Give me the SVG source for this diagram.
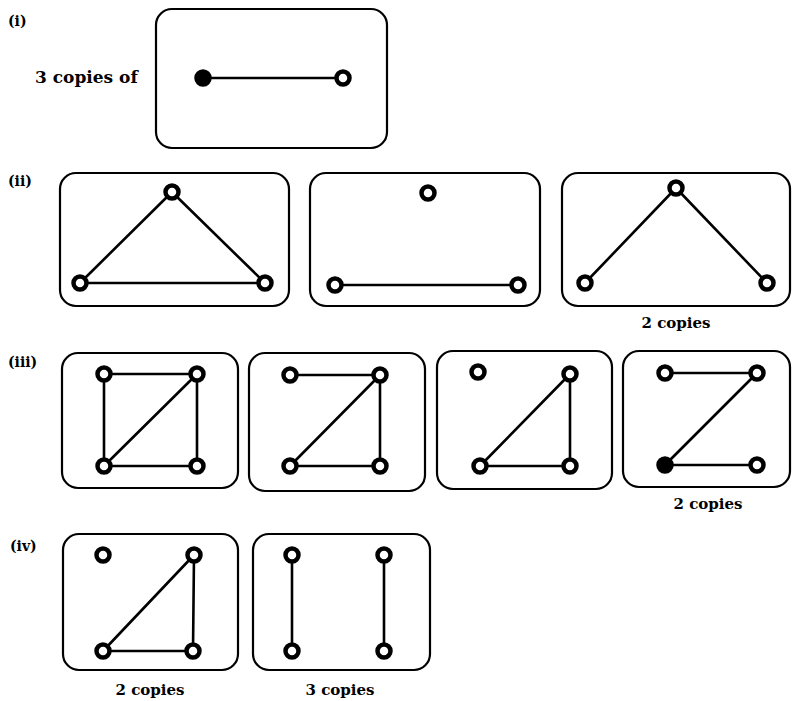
<svg xmlns="http://www.w3.org/2000/svg" width="794" height="701" viewBox="0 0 794 701">
<style>
.box{fill:none;stroke:#000;stroke-width:2.2}
.e{stroke:#000;stroke-width:2.6;stroke-linecap:round}
.n{fill:#fff;stroke:#000;stroke-width:4.5}
.nf{fill:#000;stroke:#000;stroke-width:4.5}
.t{font-family:"DejaVu Serif","Liberation Serif",serif;font-weight:bold;font-size:15px;fill:#000}
.lab{font-family:"DejaVu Serif","Liberation Serif",serif;font-weight:bold;font-size:14px;fill:#000}
</style>
<rect width="794" height="701" fill="#fff"/>
<g id="labels">
<text class="lab" x="8" y="26">(i)</text>
<text class="t" x="35" y="83" style="font-size:17px">3 copies of</text>
<text class="lab" x="8" y="186">(ii)</text>
<text class="t" x="676" y="328" text-anchor="middle">2 copies</text>
<text class="lab" x="8" y="367">(iii)</text>
<text class="t" x="708" y="509" text-anchor="middle">2 copies</text>
<text class="lab" x="10" y="551">(iv)</text>
<text class="t" x="150" y="695" text-anchor="middle">2 copies</text>
<text class="t" x="340" y="695" text-anchor="middle">3 copies</text>
</g>
<g id="connectors">
<line class="e" x1="203" y1="78" x2="343" y2="78"/>
<line class="e" x1="172" y1="192" x2="80" y2="283"/>
<line class="e" x1="172" y1="192" x2="265" y2="283"/>
<line class="e" x1="80" y1="283" x2="265" y2="283"/>
<line class="e" x1="335" y1="285" x2="518" y2="285"/>
<line class="e" x1="676" y1="188" x2="585" y2="283"/>
<line class="e" x1="676" y1="188" x2="767" y2="283"/>
<line class="e" x1="104" y1="374" x2="197" y2="374"/>
<line class="e" x1="104" y1="374" x2="104" y2="466"/>
<line class="e" x1="197" y1="374" x2="197" y2="466"/>
<line class="e" x1="104" y1="466" x2="197" y2="466"/>
<line class="e" x1="104" y1="466" x2="197" y2="374"/>
<line class="e" x1="290" y1="375" x2="380" y2="375"/>
<line class="e" x1="380" y1="375" x2="290" y2="466"/>
<line class="e" x1="290" y1="466" x2="380" y2="466"/>
<line class="e" x1="380" y1="375" x2="380" y2="466"/>
<line class="e" x1="570" y1="374" x2="480" y2="466"/>
<line class="e" x1="480" y1="466" x2="570" y2="466"/>
<line class="e" x1="570" y1="374" x2="570" y2="466"/>
<line class="e" x1="665" y1="373" x2="757" y2="373"/>
<line class="e" x1="757" y1="373" x2="665" y2="465"/>
<line class="e" x1="665" y1="465" x2="757" y2="465"/>
<line class="e" x1="194" y1="555" x2="103" y2="651"/>
<line class="e" x1="103" y1="651" x2="193" y2="651"/>
<line class="e" x1="194" y1="555" x2="193" y2="651"/>
<line class="e" x1="292" y1="555" x2="292" y2="651"/>
<line class="e" x1="384" y1="555" x2="384" y2="651"/>
</g>
<g id="graph-i">
<rect class="box" x="156" y="9" width="231" height="139" rx="16"/>
<circle class="nf" cx="203" cy="78" r="6.5"/>
<circle class="n" cx="343" cy="78" r="6.5"/>
</g>
<g id="graph-ii-a">
<rect class="box" x="60" y="173" width="229" height="133" rx="16"/>
<circle class="n" cx="172" cy="192" r="6.5"/>
<circle class="n" cx="80" cy="283" r="6.5"/>
<circle class="n" cx="265" cy="283" r="6.5"/>
</g>
<g id="graph-ii-b">
<rect class="box" x="310" y="173" width="230" height="133" rx="16"/>
<circle class="n" cx="428" cy="193" r="6.5"/>
<circle class="n" cx="335" cy="285" r="6.5"/>
<circle class="n" cx="518" cy="285" r="6.5"/>
</g>
<g id="graph-ii-c">
<rect class="box" x="562" y="173" width="228" height="133" rx="16"/>
<circle class="n" cx="676" cy="188" r="6.5"/>
<circle class="n" cx="585" cy="283" r="6.5"/>
<circle class="n" cx="767" cy="283" r="6.5"/>
</g>
<g id="graph-iii-a">
<rect class="box" x="62" y="353" width="176" height="135" rx="16"/>
<circle class="n" cx="104" cy="374" r="6.5"/>
<circle class="n" cx="197" cy="374" r="6.5"/>
<circle class="n" cx="104" cy="466" r="6.5"/>
<circle class="n" cx="197" cy="466" r="6.5"/>
</g>
<g id="graph-iii-b">
<rect class="box" x="249" y="353" width="176" height="138" rx="16"/>
<circle class="n" cx="290" cy="375" r="6.5"/>
<circle class="n" cx="380" cy="375" r="6.5"/>
<circle class="n" cx="290" cy="466" r="6.5"/>
<circle class="n" cx="380" cy="466" r="6.5"/>
</g>
<g id="graph-iii-c">
<rect class="box" x="437" y="351" width="175" height="138" rx="16"/>
<circle class="n" cx="478" cy="372" r="6.5"/>
<circle class="n" cx="570" cy="374" r="6.5"/>
<circle class="n" cx="480" cy="466" r="6.5"/>
<circle class="n" cx="570" cy="466" r="6.5"/>
</g>
<g id="graph-iii-d">
<rect class="box" x="623" y="351" width="167" height="136" rx="16"/>
<circle class="n" cx="665" cy="373" r="6.5"/>
<circle class="n" cx="757" cy="373" r="6.5"/>
<circle class="nf" cx="665" cy="465" r="6.5"/>
<circle class="n" cx="757" cy="465" r="6.5"/>
</g>
<g id="graph-iv-a">
<rect class="box" x="63" y="534" width="175" height="136" rx="16"/>
<circle class="n" cx="103" cy="555" r="6.5"/>
<circle class="n" cx="194" cy="555" r="6.5"/>
<circle class="n" cx="103" cy="651" r="6.5"/>
<circle class="n" cx="193" cy="651" r="6.5"/>
</g>
<g id="graph-iv-b">
<rect class="box" x="253" y="534" width="177" height="136" rx="16"/>
<circle class="n" cx="292" cy="555" r="6.5"/>
<circle class="n" cx="384" cy="555" r="6.5"/>
<circle class="n" cx="292" cy="651" r="6.5"/>
<circle class="n" cx="384" cy="651" r="6.5"/>
</g>
</svg>
